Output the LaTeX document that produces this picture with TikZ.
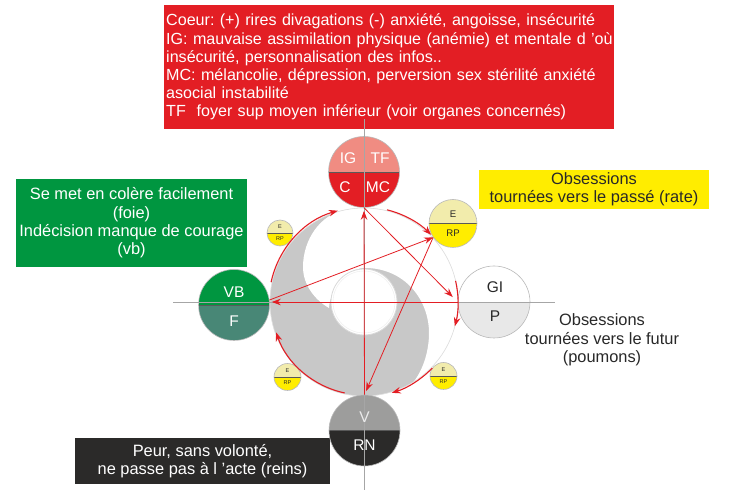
\documentclass[tikz,border=0pt]{standalone}
\usepackage{fontspec}
\setmainfont{Liberation Sans}
\frenchspacing
\usetikzlibrary{arrows.meta}
\definecolor{cred}{RGB}{227,30,36}
\definecolor{csalmon}{RGB}{240,140,130}
\definecolor{cgreen}{RGB}{0,150,64}
\definecolor{cteal}{RGB}{72,135,118}
\definecolor{cyellow}{RGB}{255,237,0}
\definecolor{cpaley}{RGB}{242,236,172}
\definecolor{cgrey}{RGB}{157,157,156}
\definecolor{cdark}{RGB}{43,42,41}
\definecolor{cpale}{RGB}{232,232,232}
\definecolor{cyin}{RGB}{200,200,200}
\definecolor{ctext}{RGB}{40,40,40}
\begin{document}
\begin{tikzpicture}[x=1pt, y=-1pt,
  every node/.style={font=\fontsize{16.4}{18.3}\selectfont},
  txtbox/.style={inner sep=0pt, align=center},
  organ/.style 2 args={circle, draw=gray!55, line width=0.6pt, inner sep=0pt,
    path picture={
      \fill[#1] (path picture bounding box.north west) rectangle (path picture bounding box.east);
      \fill[#2] (path picture bounding box.west) rectangle (path picture bounding box.south east);
      \draw[gray!70!black, line width=0.8pt] (path picture bounding box.west) -- (path picture bounding box.east);}},
  lbl/.style={font=\fontsize{15.5}{16}\selectfont, inner sep=0pt},
  redarr/.style={draw=cred, line width=0.8pt, -{Stealth[length=9pt,width=6.5pt]}},
  redarc/.style={redarr, line width=1.1pt},
  axis/.style={draw=gray!70, line width=0.7pt}]
  \path[use as bounding box, fill=white] (0,0) rectangle (732,494);
  % text boxes
  \node[txtbox, fill=cred, text=white, align=left, text width=446pt, inner xsep=2pt,
    minimum height=124pt, anchor=north west, font=\fontsize{16.1}{18.2}\selectfont] (coeurtxt) at (164,5)
    {\mbox{Coeur: (+) rires divagations (-) anxiété, angoisse, insécurité}\\
     \mbox{IG: mauvaise assimilation physique (anémie) et mentale d ’où}\\
     \mbox{insécurité, personnalisation des infos..}\\
     \mbox{MC: mélancolie, dépression, perversion sex stérilité anxiété}\\
     \mbox{asocial instabilité}\\
     \mbox{TF~ foyer sup moyen inférieur (voir organes concernés)}};
  \node[txtbox, fill=cgreen, text=white, minimum width=231pt, minimum height=88pt] (vbtxt) at (131.5,223)
    {Se met en colère facilement\\ (foie)\\ Indécision manque de courage\\ (vb)};
  \node[txtbox, fill=cyellow, text=ctext, minimum width=230pt, minimum height=39pt] (rptxt) at (594,189.5)
    {Obsessions\\ tournées vers le passé (rate)};
  \node[txtbox, text=ctext] (ptxt) at (602,340) {Obsessions\\ tournées vers le futur\\ (poumons)};
  \node[txtbox, fill=cdark, text=white, minimum width=255pt, minimum height=46pt] (rntxt) at (202.5,461)
    {Peur, sans volonté,\\ ne passe pas à l ’acte (reins)};
  % yin yang
  \coordinate (C) at (364,302);
  \fill[cyin] (C) circle (94pt);
  \fill[white] (C) ++(101:94pt) arc[start angle=101, end angle=-58, radius=94pt]
    .. controls (424,368) and (429,350) .. (429,333)
    .. controls (429,300) and (405,268) .. (365,268)
    .. controls (345,268) and (330,290) .. (329,308)
    .. controls (315,300) and (303,285) .. (303,267)
    .. controls (303,240) and (320,214) .. (346.1,209.7) -- cycle;
  \draw[gray!25, line width=0.6pt] (C) circle (94pt);
  \draw[gray!30, fill=white, line width=0.8pt] (C) circle (33pt);
  \draw[gray!15] (C) circle (31pt);
  % organs
  \node[organ={csalmon}{cred}, minimum size=71pt] (coeur) at (364,172) {};
  \node[organ={cgreen}{cteal}, minimum size=71pt] (vbf) at (234,305) {};
  \node[organ={white}{cpale}, minimum size=72pt] (gip) at (494,302) {};
  \node[organ={cgrey}{cdark}, minimum size=71pt] (vrn) at (364.5,430.5) {};
  \node[organ={cpaley}{cyellow}, minimum size=48pt] (erp) at (453,223.5) {};
  \node[organ={cpaley}{cyellow}, minimum size=26pt] (erpa) at (280,233) {};
  \node[organ={cpaley}{cyellow}, minimum size=27pt] (erpb) at (287.5,377) {};
  \node[organ={cpaley}{cyellow}, minimum size=27pt] (erpc) at (443.5,376) {};
  % axes
  \draw[axis] (173,302) -- (555,302);
  \draw[axis] (364,119) -- (364,490);
  % labels
  \node[lbl, text=white] (IG) at (348,158) {IG};
  \node[lbl, text=white] (TF) at (380,158) {TF};
  \node[lbl, text=white] (Cc) at (345,187) {C};
  \node[lbl, text=white] (MC) at (378,187) {MC};
  \node[lbl, text=white] (VB) at (234,292) {VB};
  \node[lbl, text=white] (F) at (234,321) {F};
  \node[lbl, text=ctext] (GI) at (495,287) {GI};
  \node[lbl, text=ctext] (P) at (495,316) {P};
  \node[lbl, text=gray!15] (V) at (364.5,417) {V};
  \node[lbl, text=white] (RN) at (364.5,445) {RN};
  \node[lbl, text=ctext, font=\fontsize{9.6}{10}\selectfont] (E) at (453,214) {E};
  \node[lbl, text=ctext, font=\fontsize{9.6}{10}\selectfont] (RP) at (453,233) {RP};
  \foreach \n/\x/\y in {a/280/233, b/287.5/377, c/443.5/376} {
    \node[lbl, text=ctext, font=\fontsize{5.5}{6}\selectfont] (E\n) at (\x,\y-6) {E};
    \node[lbl, text=ctext, font=\fontsize{5.5}{6}\selectfont] (RP\n) at (\x,\y+6) {RP};
  }
  % cycle arcs
  \draw[redarc] (C) ++(168:95pt) arc[start angle=168, end angle=106, radius=95pt];
  \draw[redarc] (C) ++(76:95pt) arc[start angle=76, end angle=45, radius=95pt];
  \draw[redarc] (C) ++(13:94pt) arc[start angle=13, end angle=-15, radius=94pt];
  \draw[redarc] (C) ++(-44:95pt) arc[start angle=-44, end angle=-73, radius=95pt];
  \draw[redarc] (C) ++(258:93pt) arc[start angle=258, end angle=199, radius=93pt];
  % cross arrows
  \draw[redarr, shorten >=3pt] (vrn.north) -- (coeur.south);
  \draw[redarr, shorten >=2pt] (gip.west) -- (vbf.east |- gip.west);
  \draw[redarr, shorten >=7pt] (coeur.south) -- (gip.west);
  \draw[redarr] (vbf.8) -- (erp.215);
  \draw[redarr, shorten >=4pt] (erp.215) -- (vrn.north);
\end{tikzpicture}
\end{document}
